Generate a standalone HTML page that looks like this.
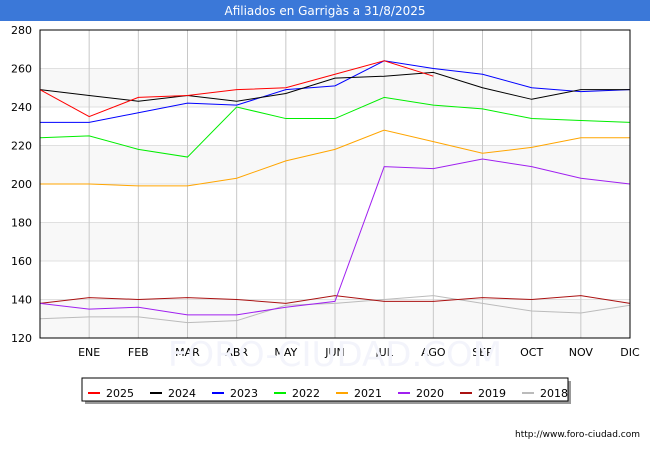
<!DOCTYPE html>
<html><head><meta charset="utf-8"><style>
body{margin:0;background:#fff;font-family:"Liberation Sans","DejaVu Sans",sans-serif}
</style></head><body>
<svg width="650" height="450" xmlns="http://www.w3.org/2000/svg" font-family="DejaVu Sans, Liberation Sans, sans-serif">
<rect x="0" y="0" width="650" height="21" fill="#3b78d8"/>
<text x="325" y="15" text-anchor="middle" fill="#fff" font-size="12">Afiliados en Garrigàs a 31/8/2025</text>
<g id="plot"></g>
<text x="335" y="366" text-anchor="middle" fill="#f3f4fb" font-size="34">FORO-CIUDAD.COM</text>
<g id="legend"></g>
<text x="640" y="437" text-anchor="end" font-size="9" fill="#000">http://www.foro-ciudad.com</text>
</svg>
<script>
const months=["","ENE","FEB","MAR","ABR","MAY","JUN","JUL","AGO","SEP","OCT","NOV","DIC"];
const yTicks=[120,140,160,180,200,220,240,260,280];
const seriesNames=["2025","2024","2023","2022","2021","2020","2019","2018"];
const seriesColors=["#ff0000","#000000","#0000ff","#00ee00","#ffa500","#a020f0","#aa1111","#bbbbbb"];
const s2025=[249,235,245,246,249,250,257,264,256];
const s2024=[249,246,243,246,243,247,255,256,258,250,244,249,249];
const s2023=[232,232,237,242,241,249,251,264,260,257,250,248,249];
const s2022=[224,225,218,214,240,234,234,245,241,239,234,233,232];
const s2021=[200,200,199,199,203,212,218,228,222,216,219,224,224];
const s2020=[138,135,136,132,132,136,139,209,208,213,209,203,200];
const s2019=[138,141,140,141,140,138,142,139,139,141,140,142,138];
const s2018=[130,131,131,128,129,137,138,140,142,138,134,133,137];
const allSeries=[s2025,s2024,s2023,s2022,s2021,s2020,s2019,s2018];
const NS="http://www.w3.org/2000/svg";
const X0=40,X1=630,Y0=30,Y1=338,vMin=120,vMax=280;
const xs=i=>X0+i*(X1-X0)/12;
const ys=v=>Y1-(v-vMin)*(Y1-Y0)/(vMax-vMin);
const plot=document.getElementById('plot');
function mk(t,a,p){const e=document.createElementNS(NS,t);for(const k in a)e.setAttribute(k,a[k]);(p||plot).appendChild(e);return e;}
for(let i=0;i<yTicks.length-1;i+=2){
 const r=mk('rect',{x:X0,y:ys(yTicks[i+1]),width:X1-X0,height:ys(yTicks[i])-ys(yTicks[i+1]),fill:'#f8f8f8'});
 
 
}
yTicks.forEach(v=>{
 const l=mk('line',{x1:X0,x2:X1,y1:ys(v),y2:ys(v),stroke:'#e0e0e0'});
 
 
 const t=mk('text',{x:X0-8,y:ys(v)+4,'text-anchor':'end','font-size':11});
 
 
 t.textContent=v;
});
months.forEach((m,i)=>{
 if(i>0){const l=mk('line',{x1:xs(i),x2:xs(i),y1:Y0,y2:Y1,stroke:'#c8c8c8'});
 
 }
 const t=mk('text',{x:xs(i),y:Y1+18,'text-anchor':'middle','font-size':11});
 
 
 t.textContent=m;
});
for(let s=allSeries.length-1;s>=0;s--){
 const pts=allSeries[s].map((v,i)=>xs(i)+','+ys(v)).join(' ');
 const p=mk('polyline',{points:pts,fill:'none',stroke:seriesColors[s],'stroke-width':1});
 
 
}
const fr=mk('rect',{x:X0,y:Y0,width:X1-X0,height:Y1-Y0,fill:'none',stroke:'#000'});


const lg=document.getElementById('legend');
const sh=mk('rect',{x:85,y:381,width:486,height:23,fill:'#999'},lg);


const lb=mk('rect',{x:82,y:378,width:486,height:23,fill:'#fff',stroke:'#000'},lg);


seriesNames.forEach((n,i)=>{
 const x=88+i*62;
 const l=mk('line',{x1:x,x2:x+12,y1:393,y2:393,stroke:seriesColors[i],'stroke-width':2},lg);
 
 
 const t=mk('text',{x:x+18,y:397,'font-size':11},lg);
 
 
 t.textContent=n;
});
</script>
</body></html>
